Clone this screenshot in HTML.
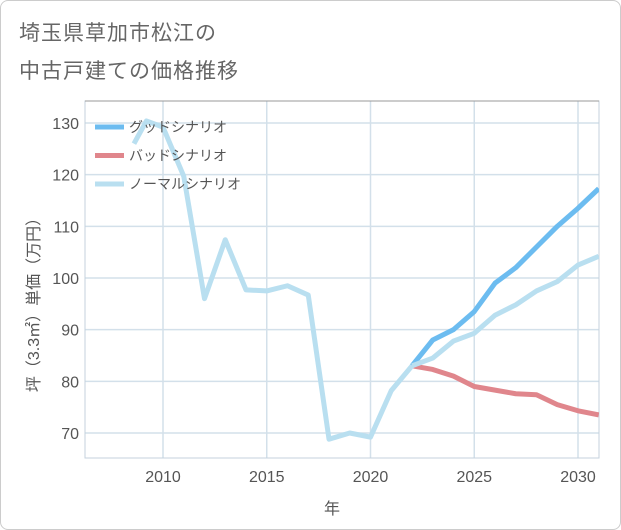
<!DOCTYPE html>
<html><head><meta charset="utf-8"><style>
body{margin:0;background:#fff;font-family:"Liberation Sans","Noto Sans CJK JP",sans-serif;}
#wrap{position:relative;width:619px;height:528px;border:1px solid #ccc;border-radius:8px;overflow:hidden;background:#fff}
.title{position:absolute;left:18px;font-size:21px;color:#666;letter-spacing:1px}
</style></head><body>
<div id="wrap">
<div class="title" style="top:16px">埼玉県草加市松江の</div>
<div class="title" style="top:54px">中古戸建ての価格推移</div>
<svg id="chart" width="621" height="530" style="position:absolute;left:0;top:0"></svg>
</div>
<script>
const years=[2008.6,2009.2,2010,2011,2012,2013,2014,2015,2016,2017,2018,2019,2020,2021,2022];
const hist=[126,130.4,129.2,119.7,96,107.4,97.7,97.5,98.5,96.7,68.8,70,69.2,78.2,83];
const fYears=[2022,2023,2024,2025,2026,2027,2028,2029,2030,2031];
const good=[83,88,90,93.5,99,102,106,110,113.5,117.3];
const bad=[83,82.3,81,79,78.3,77.6,77.4,75.5,74.3,73.5];
const normal=[83,84.5,87.8,89.3,92.8,94.8,97.5,99.3,102.5,104.2];
const xTicks=[2010,2015,2020,2025,2030];
const yTicks=[70,80,90,100,110,120,130];
const legendLabels=["グッドシナリオ","バッドシナリオ","ノーマルシナリオ"];
const L=84,R=598,T=100,B=457;
const x=v=>162+(v-2010)*20.75;
const y=v=>122+(130-v)*310/60;
const svg=document.getElementById('chart');
const NS='http://www.w3.org/2000/svg';
function mk(t,a){const e=document.createElementNS(NS,t);for(const k in a)e.setAttribute(k,a[k]);svg.appendChild(e);return e;}
const clip=mk('clipPath',{id:'pc'});
const cr=document.createElementNS(NS,'rect');cr.setAttribute('x',L);cr.setAttribute('y',T);cr.setAttribute('width',R-L);cr.setAttribute('height',B-T);clip.appendChild(cr);
xTicks.forEach(v=>{const g=mk('line',{x1:x(v),x2:x(v),y1:T,y2:B,stroke:'#d3e0ea','stroke-width':1.5});
});
yTicks.forEach(v=>{const g=mk('line',{x1:L,x2:R,y1:y(v),y2:y(v),stroke:'#d3e0ea','stroke-width':1.5});
});
const fr=mk('rect',{x:L,y:T,width:R-L,height:B-T,fill:'none',stroke:'#c4d2de'});

const tb=mk('line',{x1:L,x2:R,y1:T,y2:T,stroke:'#999','stroke-width':1});

xTicks.forEach(v=>{const t=mk('text',{x:x(v),y:481,'text-anchor':'middle','font-size':16,fill:'#555'});t.textContent=v;
});
yTicks.forEach(v=>{const t=mk('text',{x:78,y:y(v)+6,'text-anchor':'end','font-size':16,fill:'#555'});t.textContent=v;
});
const xt=mk('text',{x:331,y:513,'text-anchor':'middle','font-size':16,fill:'#555'});xt.textContent='年';

const yt=mk('text',{x:0,y:0,'text-anchor':'middle','font-size':16,fill:'#555',transform:'translate(38,300) rotate(-90)'});yt.textContent='坪（3.3㎡）単価（万円）';

function line(xs,vs,color,name){const p=mk('polyline',{points:xs.map((v,i)=>x(v)+','+y(vs[i])).join(' '),fill:'none',stroke:color,'stroke-width':5,'stroke-linejoin':'round','clip-path':'url(#pc)'});
}
line(fYears,good,'#6cbcf0','good-scenario-line');
line(fYears,bad,'#e0868c','bad-scenario-line');
line(fYears,normal,'#b9dff0','normal-scenario-line');
line(years,hist,'#b9dff0','historical-line');
const lc=['#6cbcf0','#e0868c','#b9dff0'];
legendLabels.forEach((s,i)=>{const yy=126+i*28.5;
const l=mk('line',{x1:94,x2:123,y1:yy,y2:yy,stroke:lc[i],'stroke-width':5});

const t=mk('text',{x:128,y:yy+5,'font-size':14,fill:'#555'});t.textContent=s;
});
</script>
</body></html>
